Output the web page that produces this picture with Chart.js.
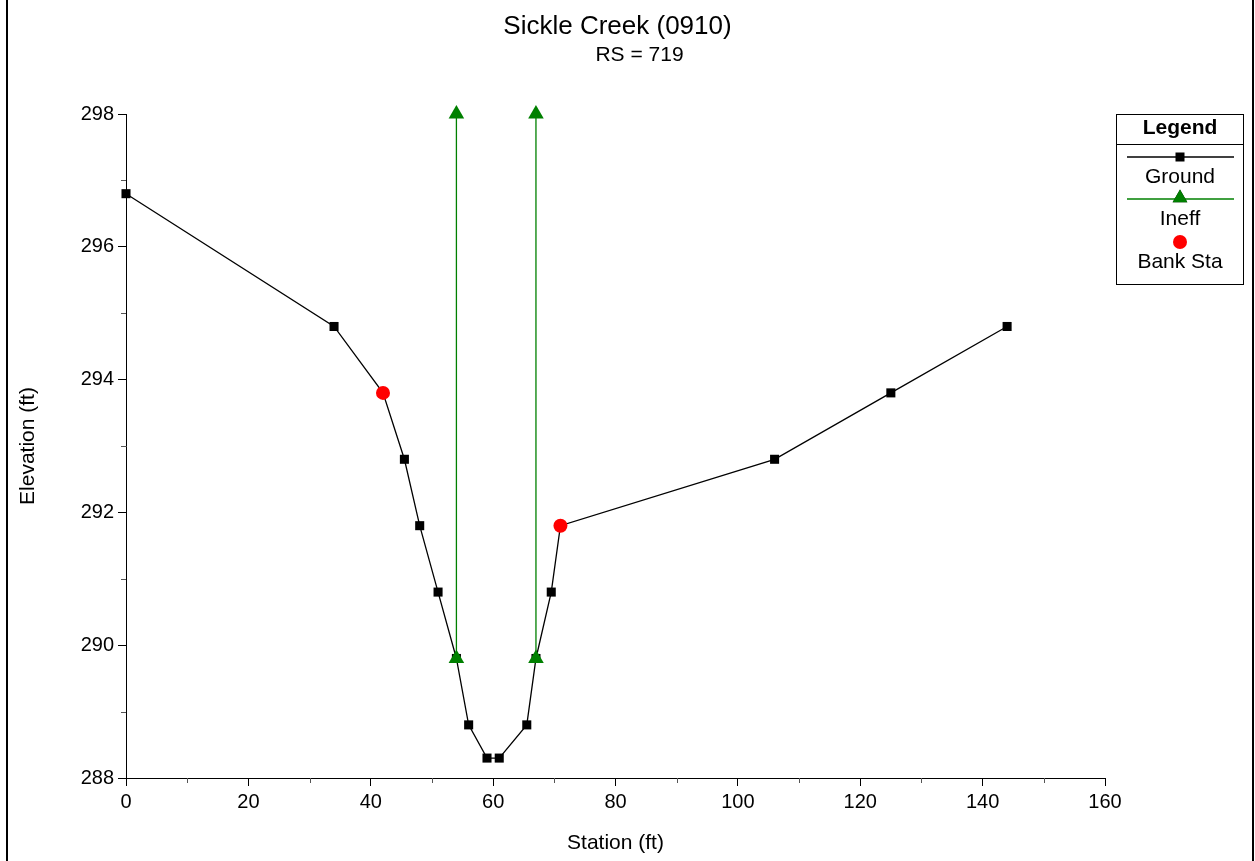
<!DOCTYPE html>
<html>
<head>
<meta charset="utf-8">
<style>
  html, body { margin: 0; padding: 0; background: #fff; }
  canvas { display: block; }
</style>
<script src="https://cdn.jsdelivr.net/npm/chart.js@4/dist/chart.umd.min.js"></script>
</head>
<body>
<canvas id="c" width="1255" height="861"></canvas>
<script>
// ---- Data ----
const chartTitle = 'Sickle Creek (0910)';
const chartSubtitle = 'RS = 719';
const xAxisTitle = 'Station (ft)';
const yAxisTitle = 'Elevation (ft)';

const groundStation   = [0, 34, 42, 45.5, 48, 51, 54, 56, 59, 61, 65.5, 67, 69.5, 71, 106, 125, 144];
const groundElevation = [296.8, 294.8, 293.8, 292.8, 291.8, 290.8, 289.8, 288.8, 288.3, 288.3, 288.8, 289.8, 290.8, 291.8, 292.8, 293.8, 294.8];

const ineffLeftStation    = [54, 54];
const ineffLeftElevation  = [289.8, 298];
const ineffRightStation   = [67, 67];
const ineffRightElevation = [289.8, 298];

const bankStation   = [42, 71];
const bankElevation = [293.8, 291.8];

const legendLabels = ['Ground', 'Ineff', 'Bank Sta'];

const xMin = 0, xMax = 160, xStep = 20, xMinorStep = 10;
const yMin = 288, yMax = 298, yStep = 2, yMinorStep = 1;

// ---- Helpers ----
const FONT = "'Liberation Sans', Arial, Helvetica, sans-serif";
const toPts = (xs, ys) => xs.map((x, i) => ({ x: x, y: ys[i] }));
const GREEN = '#008000';

const decorPlugin = {
  id: 'decor',
  afterDraw(chart) {
    const ctx = chart.ctx;
    const xs = chart.scales.x, ys = chart.scales.y;
    const area = chart.chartArea;
    ctx.save();
    // outer frame lines
    ctx.fillStyle = '#000';
    ctx.fillRect(6, 0, 2, chart.height);
    ctx.fillRect(1252, 0, 2, chart.height);

    // minor ticks
    ctx.strokeStyle = '#555';
    ctx.lineWidth = 1;
    ctx.beginPath();
    for (let v = xMin + xMinorStep; v < xMax; v += 2 * xMinorStep) {
      const px = Math.round(xs.getPixelForValue(v)) + 0.5;
      ctx.moveTo(px, area.bottom);
      ctx.lineTo(px, area.bottom + 5);
    }
    for (let v = yMin + yMinorStep; v < yMax; v += 2 * yMinorStep) {
      const py = Math.round(ys.getPixelForValue(v)) + 0.5;
      ctx.moveTo(area.left - 5, py);
      ctx.lineTo(area.left, py);
    }
    ctx.stroke();

    // titles
    ctx.fillStyle = '#000';
    ctx.textAlign = 'center';
    ctx.textBaseline = 'alphabetic';
    ctx.font = '26px ' + FONT;
    ctx.fillText(chartTitle, 617.5, 34);
    ctx.font = '21px ' + FONT;
    ctx.fillText(chartSubtitle, 639.5, 61);

    // legend box
    const bx = 1116.5, by = 114.5, bw = 127, bh = 170;
    ctx.strokeStyle = '#000';
    ctx.lineWidth = 1;
    ctx.strokeRect(bx, by, bw, bh);
    ctx.beginPath();
    ctx.moveTo(bx, 144.5);
    ctx.lineTo(bx + bw, 144.5);
    ctx.stroke();
    ctx.font = 'bold 21px ' + FONT;
    ctx.fillText('Legend', 1180, 134);

    const ds = chart.data.datasets;
    const cx = 1180;
    // Ground
    ctx.strokeStyle = '#000';
    ctx.lineWidth = 1.3;
    ctx.beginPath(); ctx.moveTo(1127, 157); ctx.lineTo(1234, 157); ctx.stroke();
    ctx.fillStyle = '#000';
    ctx.fillRect(cx - 4.5, 152.5, 9, 9);
    // Ineff
    ctx.strokeStyle = GREEN;
    ctx.lineWidth = 1.3;
    ctx.beginPath(); ctx.moveTo(1127, 199); ctx.lineTo(1234, 199); ctx.stroke();
    ctx.beginPath();
    Chart.helpers.drawPoint(ctx, { pointStyle: 'triangle', radius: 8.5, borderWidth: 0, rotation: 0 }, cx, 198);
    ctx.fillStyle = GREEN;
    ctx.fill();
    // Bank
    ctx.beginPath();
    ctx.arc(cx, 242, 7, 0, Math.PI * 2);
    ctx.fillStyle = '#ff0000';
    ctx.fill();

    ctx.fillStyle = '#000';
    ctx.font = '21px ' + FONT;
    ctx.fillText(legendLabels[0], cx, 183);
    ctx.fillText(legendLabels[1], cx, 225);
    ctx.fillText(legendLabels[2], cx, 268);
    ctx.restore();
  }
};

new Chart(document.getElementById('c'), {
  type: 'scatter',
  data: {
    datasets: [
      {
        label: legendLabels[2],
        data: toPts(bankStation, bankElevation),
        showLine: false,
        clip: false,
        pointStyle: 'circle',
        pointRadius: 7,
        pointBackgroundColor: '#ff0000',
        pointBorderWidth: 0,
        order: 0
      },
      {
        label: legendLabels[1],
        data: toPts(ineffLeftStation, ineffLeftElevation)
          .concat([{ x: null, y: null }])
          .concat(toPts(ineffRightStation, ineffRightElevation)),
        showLine: true,
        spanGaps: false,
        clip: false,
        borderColor: GREEN,
        borderWidth: 1.3,
        pointStyle: 'triangle',
        pointRadius: 9,
        pointBackgroundColor: GREEN,
        pointBorderWidth: 0,
        order: 1
      },
      {
        label: legendLabels[0],
        data: toPts(groundStation, groundElevation),
        showLine: true,
        clip: false,
        borderColor: '#000',
        borderWidth: 1.3,
        pointStyle: 'rect',
        pointRadius: 6.4,
        pointBackgroundColor: '#000',
        pointBorderWidth: 0,
        order: 2
      }
    ]
  },
  options: {
    responsive: false,
    animation: false,
    events: [],
    layout: { padding: { top: 114, right: 150, left: 0, bottom: 0 } },
    plugins: {
      legend: { display: false },
      title: { display: false },
      tooltip: { enabled: false }
    },
    scales: {
      x: {
        type: 'linear',
        min: xMin, max: xMax,
        afterFit(s) { s.height = 83; },
        ticks: { stepSize: xStep, color: '#000', padding: 4, font: { family: FONT, size: 20 } },
        grid: { drawOnChartArea: false, drawTicks: true, tickLength: 8, color: '#000', tickColor: '#000' },
        border: { display: true, color: '#000', width: 1 },
        title: { display: true, text: xAxisTitle, color: '#000', font: { family: FONT, size: 21 }, padding: { top: 0, bottom: 5 } }
      },
      y: {
        type: 'linear',
        min: yMin, max: yMax,
        afterFit(s) { s.width = 126; },
        ticks: { stepSize: yStep, color: '#000', padding: 4, font: { family: FONT, size: 20 } },
        grid: { drawOnChartArea: false, drawTicks: true, tickLength: 8, color: '#000', tickColor: '#000' },
        border: { display: true, color: '#000', width: 1 },
        title: { display: true, text: yAxisTitle, color: '#000', font: { family: FONT, size: 21 }, padding: { top: 16, bottom: 0 } }
      }
    }
  },
  plugins: [decorPlugin]
});
</script>
</body>
</html>
